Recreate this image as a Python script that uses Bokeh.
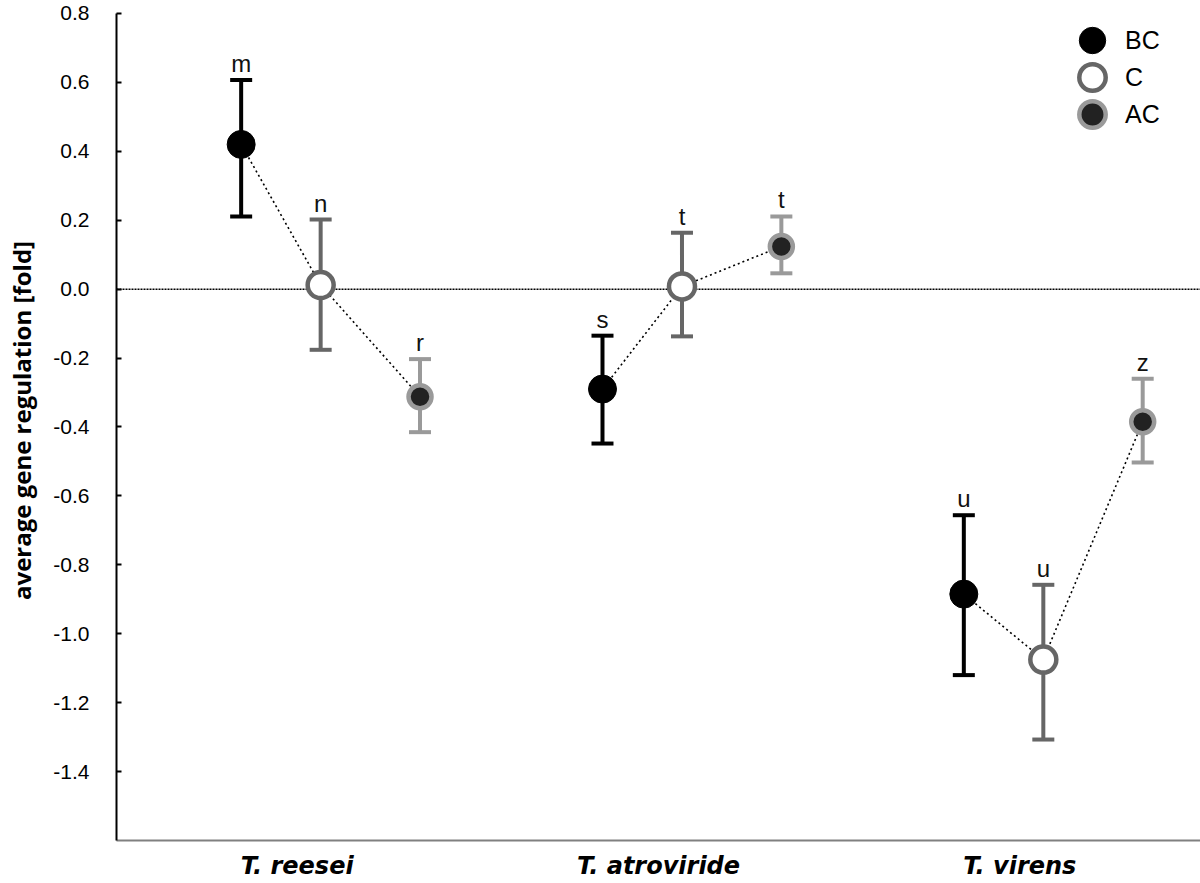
from bokeh.plotting import figure
from bokeh.models import (ColumnDataSource, Whisker, TeeHead, Span, FixedTicker,
                          Legend, LegendItem, Range1d, PrintfTickFormatter)
from bokeh.core.properties import value
from bokeh.embed import file_html
from bokeh.resources import INLINE

# ---------------- data ----------------
species = ["T. reesei", "T. atroviride", "T. virens"]
treatments = ["BC", "C", "AC"]

bc_mean = [0.420, -0.290, -0.885]
bc_upper = [0.607, -0.135, -0.656]
bc_lower = [0.211, -0.448, -1.120]
bc_letters = ["m", "s", "u"]

c_mean = [0.012, 0.008, -1.075]
c_upper = [0.202, 0.164, -0.858]
c_lower = [-0.176, -0.137, -1.307]
c_letters = ["n", "t", "u"]

ac_mean = [-0.312, 0.124, -0.385]
ac_upper = [-0.203, 0.211, -0.260]
ac_lower = [-0.415, 0.046, -0.503]
ac_letters = ["r", "t", "z"]

y_ticks = [-1.4, -1.2, -1.0, -0.8, -0.6, -0.4, -0.2, 0.0, 0.2, 0.4, 0.6, 0.8]
y_title = "average gene regulation [fold]"

# ---------------- layout / style ----------------
offsets = {"BC": -0.155, "C": 0.065, "AC": 0.34}
styles = {
    "BC": dict(err="#000000", fill="#000000", line="#000000", size=28, lw=1),
    "C": dict(err="#666666", fill="#ffffff", line="#666666", size=26, lw=4.5),
    "AC": dict(err="#9a9a9a", fill="#222222", line="#9a9a9a", size=23, lw=4.5),
}
series = {
    "BC": (bc_mean, bc_upper, bc_lower, bc_letters),
    "C": (c_mean, c_upper, c_lower, c_letters),
    "AC": (ac_mean, ac_upper, ac_lower, ac_letters),
}

FIG_W, FIG_H = 1200, 883
BORDER_LEFT, BORDER_BOTTOM = 116, 43
frame_bottom = FIG_H - BORDER_BOTTOM  # figure px from top

p = figure(width=FIG_W, height=FIG_H, x_range=Range1d(0.5, 3.5),
           y_range=Range1d(-1.6, 0.8377), output_backend="svg",
           toolbar_location=None, min_border_left=BORDER_LEFT, min_border_right=0,
           min_border_top=0, min_border_bottom=BORDER_BOTTOM)
p.outline_line_color = None
p.xgrid.grid_line_color = None
p.ygrid.grid_line_color = None
p.background_fill_color = "white"

# zero line
zero = Span(location=0, dimension="width", line_color="black",
            line_width=1.5, line_dash="2 1", level="underlay")
p.add_layout(zero)

sources = {}
for t in treatments:
    mean, up, lo, let = series[t]
    xs = [i + 1 + offsets[t] for i in range(len(species))]
    sources[t] = ColumnDataSource(dict(x=xs, mean=mean, upper=up, lower=lo, letter=let))

# dotted connecting lines within each species
xs_lines, ys_lines = [], []
for i in range(len(species)):
    xs_lines.append([sources[t].data["x"][i] for t in treatments])
    ys_lines.append([series[t][0][i] for t in treatments])
p.multi_line(xs_lines, ys_lines, line_color="black", line_width=1.6, line_dash="2 3")

renderers = {}
for t in treatments:
    s = styles[t]
    src = sources[t]
    w = Whisker(source=src, base="x", upper="upper", lower="lower",
                line_color=s["err"], line_width=4, level="underlay",
                upper_head=TeeHead(size=22, line_color=s["err"], line_width=4),
                lower_head=TeeHead(size=22, line_color=s["err"], line_width=4))
    p.add_layout(w)
    renderers[t] = p.scatter("x", "mean", source=src, size=s["size"],
                             fill_color=s["fill"], line_color=s["line"],
                             line_width=s["lw"])
    p.text("x", "upper", text="letter", source=src, text_align="center",
           text_baseline="bottom", y_offset=-3,
           text_font=value("Liberation Sans"), text_font_size="24px",
           text_color="#111111")

# axes
p.yaxis.bounds = (-1.6, 0.8)
p.yaxis.ticker = FixedTicker(ticks=y_ticks)
p.yaxis.formatter = PrintfTickFormatter(format="%.1f")
p.yaxis.axis_line_color = "black"
p.yaxis.axis_line_width = 2
p.yaxis.major_tick_in = 5
p.yaxis.major_tick_out = 0
p.yaxis.major_tick_line_width = 2
p.yaxis.major_tick_line_color = "black"
p.yaxis.minor_tick_line_color = None
p.yaxis.major_label_text_font = "Liberation Sans"
p.yaxis.major_label_text_font_size = "21px"
p.yaxis.major_label_text_color = "black"
p.yaxis.major_label_standoff = 27
p.yaxis.axis_label = y_title
p.yaxis.axis_label_text_font = "Open Sans"
p.yaxis.axis_label_text_font_style = "bold"
p.yaxis.axis_label_text_font_size = "24px"
p.yaxis.axis_label_text_color = "black"
p.yaxis.axis_label_standoff = 12

p.xaxis.ticker = FixedTicker(ticks=[1, 2, 3])
p.xaxis.major_label_overrides = {i + 1: s for i, s in enumerate(species)}
p.xaxis.axis_line_color = "#808080"
p.xaxis.axis_line_width = 2
p.xaxis.major_tick_in = 0
p.xaxis.major_tick_out = 0
p.xaxis.minor_tick_line_color = None
p.xaxis.major_label_text_font = "DejaVu Sans"
p.xaxis.major_label_text_font_style = "bold italic"
p.xaxis.major_label_text_font_size = "24px"
p.xaxis.major_label_text_color = "black"
p.xaxis.major_label_standoff = 11

# legend: one single-entry legend per treatment, stacked at top right
GLYPH = 66
legend_centers = [40, 77, 114]   # figure px from top
legend_left = 943                 # frame px from left
for t, cy in zip(treatments, legend_centers):
    lg = Legend(items=[LegendItem(label=t, renderers=[renderers[t]])],
                location=(legend_left, frame_bottom - (cy + GLYPH // 2)),
                glyph_width=GLYPH, glyph_height=GLYPH, label_height=GLYPH,
                label_standoff=0, padding=0, margin=0, spacing=0,
                border_line_color=None, background_fill_alpha=0,
                label_text_font="Liberation Sans", label_text_font_size="25px",
                label_text_color="black")
    p.add_layout(lg)

open("out.html", "w").write(file_html(p, INLINE))
